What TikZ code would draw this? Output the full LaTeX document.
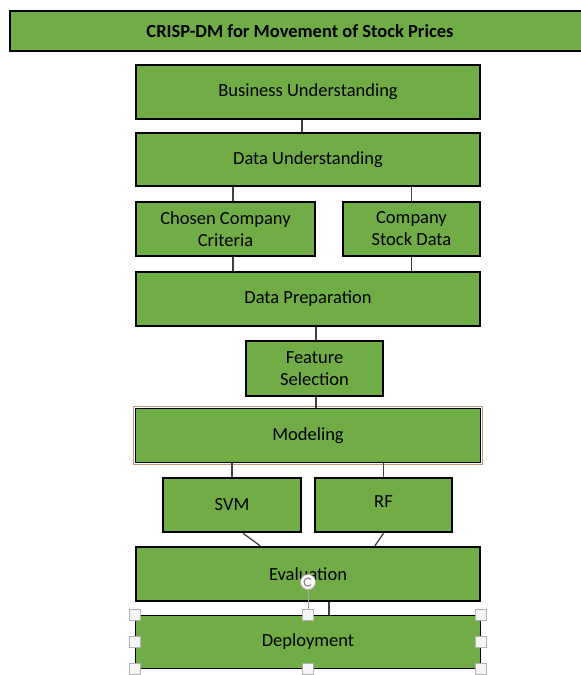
\documentclass[tikz,border=0pt]{standalone}
\usepackage{fontspec}
\setmainfont{Carlito}
\usetikzlibrary{positioning}
\definecolor{boxgreen}{RGB}{112,173,71}
\definecolor{rimbrown}{RGB}{196,150,120}
\tikzset{
  phase/.style={draw=black, line width=2.6pt, fill=boxgreen,
    align=center, inner sep=0pt,
    font=\fontsize{18.5}{22}\selectfont},
  thinphase/.style={phase, line width=1.4pt},
  link/.style={draw=black!75, line width=1.3pt},
  handle/.style={draw=black!30, fill=black!4, line width=0.8pt,
    minimum size=11pt, inner sep=0pt}
}

\begin{document}
\begin{tikzpicture}[x=1pt,y=-1pt]
  \useasboundingbox (0,0) rectangle (581,675);

  % title bar
  \node[phase, font=\fontsize{18.5}{22}\bfseries, minimum width=580pt,
    minimum height=40pt] (title) at (300,31) {CRISP-DM for Movement of Stock Prices};

  % phases
  \node[phase, minimum width=344pt, minimum height=54pt] (bu) at (308,92) {Business Understanding};
  \node[phase, minimum width=344pt, minimum height=53pt] (du) at (308,159.5) {Data Understanding};
  \node[phase, minimum width=179pt, minimum height=54pt] (ccc) at (225.5,229) {Chosen Company\\Criteria};
  \node[phase, minimum width=137pt, minimum height=54pt] (csd) at (411.5,229) {Company\\Stock Data};
  \node[phase, minimum width=344pt, minimum height=54pt] (dp) at (308,299) {Data Preparation};
  \node[phase, minimum width=137pt, minimum height=55pt] (fs) at (314.5,368.5) {Feature\\Selection};
  \node[thinphase, minimum width=345pt, minimum height=54pt] (mod) at (308,435.5) {Modeling};
  \draw[rimbrown, line width=0.8pt] ([shift={(-1.2pt,1.2pt)}]mod.north west)
    rectangle ([shift={(1.2pt,-1.2pt)}]mod.south east);
  \node[phase, minimum width=138pt, minimum height=54pt] (svm) at (232,505) {SVM};
  \node[phase, minimum width=137pt, minimum height=54pt, text depth=6pt] (rf) at (383.5,505) {RF};
  \node[phase, minimum width=344pt, minimum height=54pt] (ev) at (308,574) {Evaluation};
  \node[thinphase, minimum width=345pt, minimum height=53pt] (dep) at (308,642) {Deployment};

  % connectors
  \draw[link] ([xshift=-6pt]bu.south) -- ([xshift=-6pt]du.north);
  \draw[link] (du.south -| 233,0) -- (ccc.north -| 233,0);
  \draw[link] (du.south -| csd) -- (csd.north);
  \draw[link] (ccc.south -| 233,0) -- (dp.north -| 233,0);
  \draw[link] (csd.south) -- (dp.north -| csd);
  \draw[link] (dp.south -| 316,0) -- (fs.north -| 316,0);
  \draw[link] (fs.south -| 316,0) -- (mod.north -| 316,0);
  \draw[link] (mod.south -| svm) -- (svm.north);
  \draw[link] (mod.south -| rf) -- (rf.north);
  \draw[link] ([xshift=11pt]svm.south) -- (ev.north -| 260,0);
  \draw[link] (rf.south) -- (ev.north -| 375,0);
  \draw[link] (ev.south -| 329,0) -- (dep.north -| 329,0);

  % selection handles
  \coordinate (rot) at (308,582);
  \draw[draw=black!35, line width=0.8pt] (rot) -- (dep.north);
  \foreach \a in {north west,north,north east,west,east,south west,south,south east}
    \node[handle] at (dep.\a) {};
  \node[circle, draw=black!30, fill=white, line width=0.8pt, minimum size=15pt,
    inner sep=0pt] (rotknob) at (rot) {};
  \draw[black!45, line width=1.2pt] ([shift={(40:4pt)}]rot) arc[start angle=40, end angle=320, radius=4pt];
\end{tikzpicture}
\end{document}
